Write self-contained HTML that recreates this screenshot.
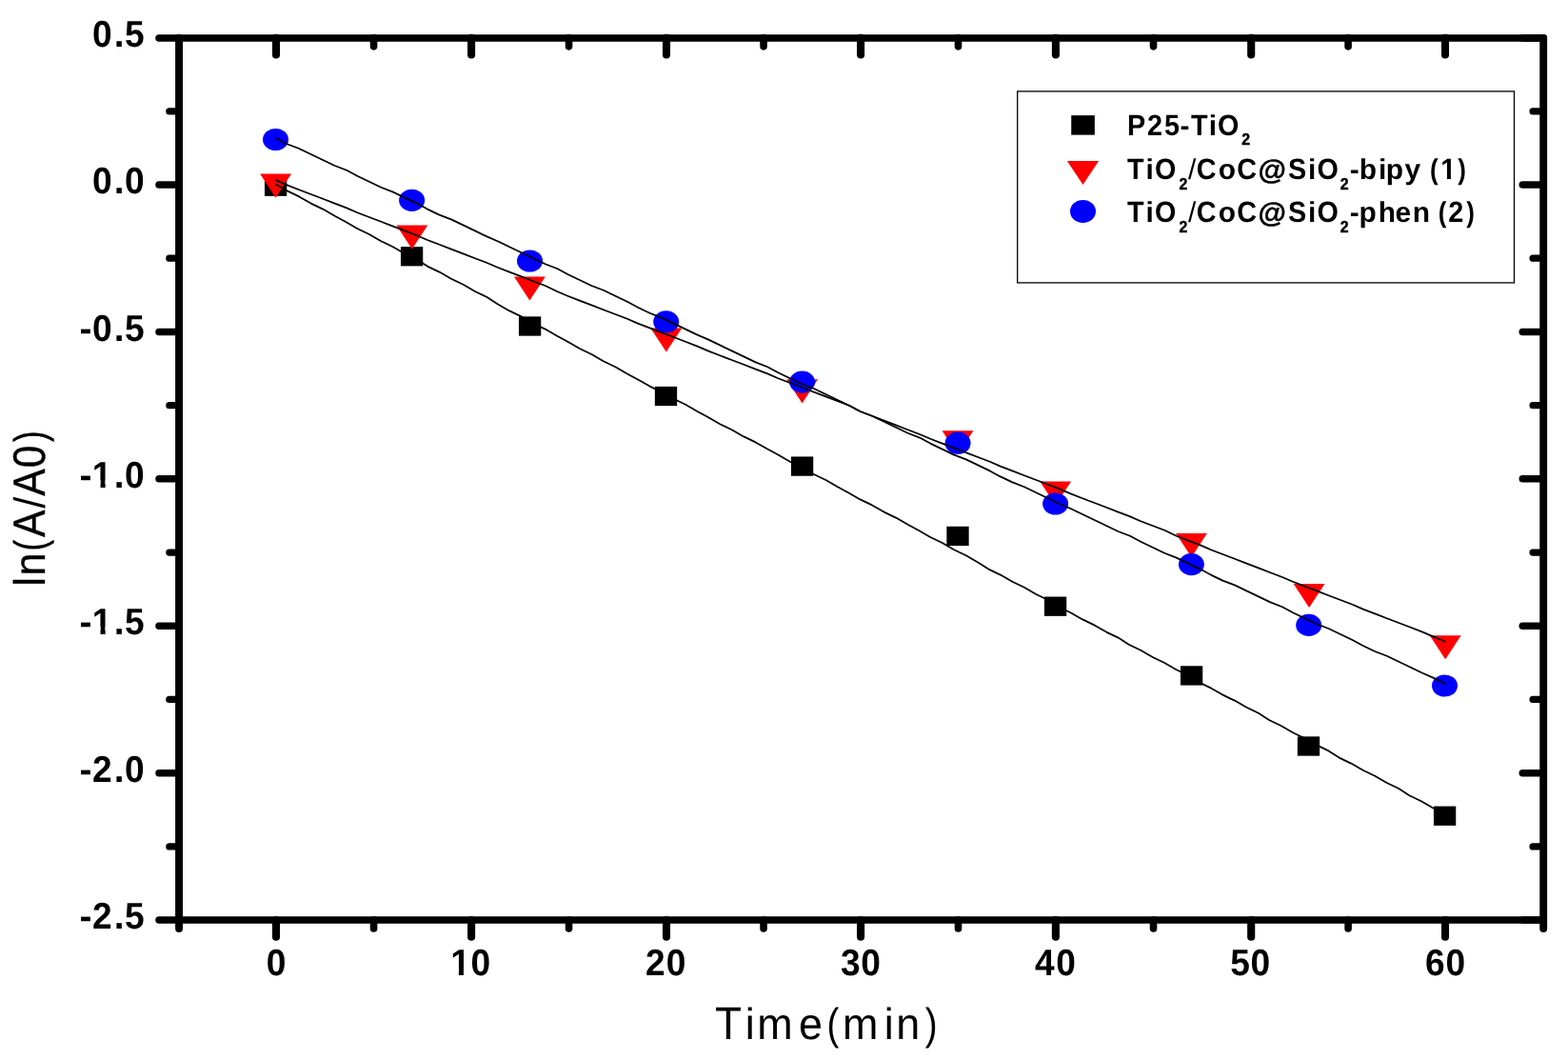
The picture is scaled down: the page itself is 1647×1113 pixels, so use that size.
<!DOCTYPE html>
<html lang="en">
<head>
<meta charset="utf-8">
<title>ln(A/A0) vs Time(min)</title>
<style>
html,body{margin:0;padding:0;background:#fff;}
body{width:1647px;height:1113px;overflow:hidden;}
svg{display:block;}
text{font-family:"Liberation Sans",sans-serif;white-space:pre;text-rendering:geometricPrecision;}
text.b{font-weight:bold;}
text.r{font-weight:normal;}
</style>
</head>
<body>
<svg width="1647" height="1113" viewBox="0 0 1647 1113" role="img" aria-label="ln(A/A0) versus Time(min)">
<rect x="0" y="0" width="1647" height="1113" fill="#fff"/>
<g stroke="#000" stroke-linecap="round" fill="none">
<line x1="188.05" y1="39.9" x2="1621.2" y2="39.9" stroke-width="7.5"/>
<line x1="188.05" y1="966.1" x2="1621.2" y2="966.1" stroke-width="7.5"/>
<line x1="188.05" y1="39.9" x2="188.05" y2="966.1" stroke-width="7.9"/>
<line x1="1621.2" y1="39.9" x2="1621.2" y2="966.1" stroke-width="7.9"/>
<line x1="188.05" y1="966.1" x2="188.05" y2="975.05" stroke-width="7.9"/>
<line x1="290" y1="966.1" x2="290" y2="983.65" stroke-width="8.1"/>
<line x1="290" y1="39.9" x2="290" y2="57.45" stroke-width="8.1"/>
<line x1="392.55" y1="966.1" x2="392.55" y2="975.05" stroke-width="7.6"/>
<line x1="392.55" y1="39.9" x2="392.55" y2="48.85" stroke-width="7.6"/>
<line x1="495.1" y1="966.1" x2="495.1" y2="983.65" stroke-width="8.1"/>
<line x1="495.1" y1="39.9" x2="495.1" y2="57.45" stroke-width="8.1"/>
<line x1="597.55" y1="966.1" x2="597.55" y2="975.05" stroke-width="7.6"/>
<line x1="597.55" y1="39.9" x2="597.55" y2="48.85" stroke-width="7.6"/>
<line x1="700" y1="966.1" x2="700" y2="983.65" stroke-width="8.1"/>
<line x1="700" y1="39.9" x2="700" y2="57.45" stroke-width="8.1"/>
<line x1="802.05" y1="966.1" x2="802.05" y2="975.05" stroke-width="7.6"/>
<line x1="802.05" y1="39.9" x2="802.05" y2="48.85" stroke-width="7.6"/>
<line x1="904.1" y1="966.1" x2="904.1" y2="983.65" stroke-width="8.1"/>
<line x1="904.1" y1="39.9" x2="904.1" y2="57.45" stroke-width="8.1"/>
<line x1="1006.5" y1="966.1" x2="1006.5" y2="975.05" stroke-width="7.6"/>
<line x1="1006.5" y1="39.9" x2="1006.5" y2="48.85" stroke-width="7.6"/>
<line x1="1108.9" y1="966.1" x2="1108.9" y2="983.65" stroke-width="8.1"/>
<line x1="1108.9" y1="39.9" x2="1108.9" y2="57.45" stroke-width="8.1"/>
<line x1="1211.55" y1="966.1" x2="1211.55" y2="975.05" stroke-width="7.6"/>
<line x1="1211.55" y1="39.9" x2="1211.55" y2="48.85" stroke-width="7.6"/>
<line x1="1314.2" y1="966.1" x2="1314.2" y2="983.65" stroke-width="8.1"/>
<line x1="1314.2" y1="39.9" x2="1314.2" y2="57.45" stroke-width="8.1"/>
<line x1="1416.1" y1="966.1" x2="1416.1" y2="975.05" stroke-width="7.6"/>
<line x1="1416.1" y1="39.9" x2="1416.1" y2="48.85" stroke-width="7.6"/>
<line x1="1518" y1="966.1" x2="1518" y2="983.65" stroke-width="8.1"/>
<line x1="1518" y1="39.9" x2="1518" y2="57.45" stroke-width="8.1"/>
<line x1="1621.2" y1="966.1" x2="1621.2" y2="975.05" stroke-width="7.9"/>
<line x1="167" y1="39.9" x2="188.05" y2="39.9" stroke-width="7.5"/>
<line x1="1599.25" y1="39.9" x2="1621.2" y2="39.9" stroke-width="7.5"/>
<line x1="177.8" y1="116.95" x2="188.05" y2="116.95" stroke-width="7.2"/>
<line x1="1610.05" y1="116.95" x2="1621.2" y2="116.95" stroke-width="7.2"/>
<line x1="167" y1="194" x2="188.05" y2="194" stroke-width="7.5"/>
<line x1="1599.25" y1="194" x2="1621.2" y2="194" stroke-width="7.5"/>
<line x1="177.8" y1="271.21" x2="188.05" y2="271.21" stroke-width="7.2"/>
<line x1="1610.05" y1="271.21" x2="1621.2" y2="271.21" stroke-width="7.2"/>
<line x1="167" y1="348.42" x2="188.05" y2="348.42" stroke-width="7.5"/>
<line x1="1599.25" y1="348.42" x2="1621.2" y2="348.42" stroke-width="7.5"/>
<line x1="177.8" y1="425.63" x2="188.05" y2="425.63" stroke-width="7.2"/>
<line x1="1610.05" y1="425.63" x2="1621.2" y2="425.63" stroke-width="7.2"/>
<line x1="167" y1="502.84" x2="188.05" y2="502.84" stroke-width="7.5"/>
<line x1="1599.25" y1="502.84" x2="1621.2" y2="502.84" stroke-width="7.5"/>
<line x1="177.8" y1="580.05" x2="188.05" y2="580.05" stroke-width="7.2"/>
<line x1="1610.05" y1="580.05" x2="1621.2" y2="580.05" stroke-width="7.2"/>
<line x1="167" y1="657.26" x2="188.05" y2="657.26" stroke-width="7.5"/>
<line x1="1599.25" y1="657.26" x2="1621.2" y2="657.26" stroke-width="7.5"/>
<line x1="177.8" y1="734.47" x2="188.05" y2="734.47" stroke-width="7.2"/>
<line x1="1610.05" y1="734.47" x2="1621.2" y2="734.47" stroke-width="7.2"/>
<line x1="167" y1="811.68" x2="188.05" y2="811.68" stroke-width="7.5"/>
<line x1="1599.25" y1="811.68" x2="1621.2" y2="811.68" stroke-width="7.5"/>
<line x1="177.8" y1="888.89" x2="188.05" y2="888.89" stroke-width="7.2"/>
<line x1="1610.05" y1="888.89" x2="1621.2" y2="888.89" stroke-width="7.2"/>
<line x1="167" y1="966.1" x2="188.05" y2="966.1" stroke-width="7.5"/>
<line x1="1599.25" y1="966.1" x2="1621.2" y2="966.1" stroke-width="7.5"/>
</g>
<g fill="#000">
<text class="b" y="48.75"><tspan x="96.95" font-size="38.9" textLength="20.661" lengthAdjust="spacingAndGlyphs">0</tspan><tspan x="119.67" font-size="38.9">.</tspan><tspan x="130.92" font-size="38.9" textLength="20.661" lengthAdjust="spacingAndGlyphs">5</tspan></text>
<text class="b" y="202.75"><tspan x="96.95" font-size="38.9" textLength="20.661" lengthAdjust="spacingAndGlyphs">0</tspan><tspan x="119.67" font-size="38.9">.</tspan><tspan x="131" font-size="38.9" textLength="20.661" lengthAdjust="spacingAndGlyphs">0</tspan></text>
<text class="b" y="357.8"><tspan x="83.59" font-size="38.9">-</tspan><tspan x="96.95" font-size="38.9" textLength="20.661" lengthAdjust="spacingAndGlyphs">0</tspan><tspan x="119.67" font-size="38.9">.</tspan><tspan x="130.92" font-size="38.9" textLength="20.661" lengthAdjust="spacingAndGlyphs">5</tspan></text>
<text class="b" y="512"><tspan x="83.59" font-size="38.9">-</tspan><tspan x="96.85" font-size="38.9" textLength="20.661" lengthAdjust="spacingAndGlyphs">1</tspan><tspan x="119.67" font-size="38.9">.</tspan><tspan x="131" font-size="38.9" textLength="20.661" lengthAdjust="spacingAndGlyphs">0</tspan></text>
<rect x="97.57" y="504.22" width="7.95" height="9.28" fill="#fff"/>
<rect x="110.61" y="504.22" width="7.64" height="9.28" fill="#fff"/>
<text class="b" y="665.75"><tspan x="83.59" font-size="38.9">-</tspan><tspan x="96.85" font-size="38.9" textLength="20.661" lengthAdjust="spacingAndGlyphs">1</tspan><tspan x="119.67" font-size="38.9">.</tspan><tspan x="130.92" font-size="38.9" textLength="20.661" lengthAdjust="spacingAndGlyphs">5</tspan></text>
<rect x="97.57" y="657.97" width="7.95" height="9.28" fill="#fff"/>
<rect x="110.61" y="657.97" width="7.64" height="9.28" fill="#fff"/>
<text class="b" y="820.75"><tspan x="83.59" font-size="38.9">-</tspan><tspan x="97.02" font-size="38.9" textLength="20.661" lengthAdjust="spacingAndGlyphs">2</tspan><tspan x="119.67" font-size="38.9">.</tspan><tspan x="131" font-size="38.9" textLength="20.661" lengthAdjust="spacingAndGlyphs">0</tspan></text>
<text class="b" y="974.75"><tspan x="83.59" font-size="38.9">-</tspan><tspan x="97.02" font-size="38.9" textLength="20.661" lengthAdjust="spacingAndGlyphs">2</tspan><tspan x="119.67" font-size="38.9">.</tspan><tspan x="130.92" font-size="38.9" textLength="20.661" lengthAdjust="spacingAndGlyphs">5</tspan></text>
<text class="b" y="1024"><tspan x="279.75" font-size="38.9" textLength="20.661" lengthAdjust="spacingAndGlyphs">0</tspan></text>
<text class="b" y="1024"><tspan x="473.2" font-size="38.9" textLength="20.661" lengthAdjust="spacingAndGlyphs">1</tspan><tspan x="494.55" font-size="38.9" textLength="20.661" lengthAdjust="spacingAndGlyphs">0</tspan></text>
<rect x="473.92" y="1016.22" width="7.95" height="9.28" fill="#fff"/>
<rect x="486.96" y="1016.22" width="7.64" height="9.28" fill="#fff"/>
<text class="b" y="1024"><tspan x="678.12" font-size="38.9" textLength="20.661" lengthAdjust="spacingAndGlyphs">2</tspan><tspan x="699.65" font-size="38.9" textLength="20.661" lengthAdjust="spacingAndGlyphs">0</tspan></text>
<text class="b" y="1024"><tspan x="883.11" font-size="38.9" textLength="20.661" lengthAdjust="spacingAndGlyphs">3</tspan><tspan x="904.3" font-size="38.9" textLength="20.661" lengthAdjust="spacingAndGlyphs">0</tspan></text>
<text class="b" y="1024"><tspan x="1087.04" font-size="38.9" textLength="20.661" lengthAdjust="spacingAndGlyphs">4</tspan><tspan x="1109.15" font-size="38.9" textLength="20.661" lengthAdjust="spacingAndGlyphs">0</tspan></text>
<text class="b" y="1024"><tspan x="1292.17" font-size="38.9" textLength="20.661" lengthAdjust="spacingAndGlyphs">5</tspan><tspan x="1313.55" font-size="38.9" textLength="20.661" lengthAdjust="spacingAndGlyphs">0</tspan></text>
<text class="b" y="1024"><tspan x="1496.96" font-size="38.9" textLength="20.661" lengthAdjust="spacingAndGlyphs">6</tspan><tspan x="1518.5" font-size="38.9" textLength="20.661" lengthAdjust="spacingAndGlyphs">0</tspan></text>
</g>
<g fill="#000">
<text class="r" y="1091"><tspan x="751.05" font-size="48.3" textLength="28.028" lengthAdjust="spacingAndGlyphs">T</tspan><tspan x="782.87" font-size="46.3" textLength="9.978" lengthAdjust="spacingAndGlyphs">i</tspan><tspan x="795.18" font-size="46.3" textLength="37.411" lengthAdjust="spacingAndGlyphs">m</tspan><tspan x="839.06" font-size="46.3" textLength="24.977" lengthAdjust="spacingAndGlyphs">e</tspan><tspan x="868.48" font-size="46.3" textLength="12.862" lengthAdjust="spacingAndGlyphs">(</tspan><tspan x="884.98" font-size="46.3" textLength="37.411" lengthAdjust="spacingAndGlyphs">m</tspan><tspan x="928.82" font-size="46.3" textLength="9.978" lengthAdjust="spacingAndGlyphs">i</tspan><tspan x="941.28" font-size="46.3" textLength="24.977" lengthAdjust="spacingAndGlyphs">n</tspan><tspan x="971.75" font-size="46.3" textLength="12.862" lengthAdjust="spacingAndGlyphs">)</tspan></text>
<g stroke="#000" stroke-width="0.4" stroke-linejoin="round">
<text class="r" y="0" transform="translate(47.2 0) rotate(-90)"><tspan x="-615.74" font-size="45.8" textLength="9.667" lengthAdjust="spacingAndGlyphs">l</tspan><tspan x="-604.48" font-size="45.8" textLength="24.198" lengthAdjust="spacingAndGlyphs">n</tspan><tspan x="-578.57" font-size="45.8" textLength="11.591" lengthAdjust="spacingAndGlyphs">(</tspan><tspan x="-563.88" font-size="47.4" textLength="28.454" lengthAdjust="spacingAndGlyphs">A</tspan><tspan x="-533.64" font-size="45.8" stroke="none" textLength="12.088" lengthAdjust="spacingAndGlyphs">/</tspan><tspan x="-520.78" font-size="47.4" textLength="28.454" lengthAdjust="spacingAndGlyphs">A</tspan><tspan x="-491.24" font-size="47.4" textLength="23.725" lengthAdjust="spacingAndGlyphs">0</tspan><tspan x="-463.92" font-size="45.8" textLength="11.591" lengthAdjust="spacingAndGlyphs">)</tspan></text>
</g>
</g>
<g>
<rect x="277.95" y="185.55" width="23.3" height="20.3" fill="#000"/>
<rect x="420.95" y="259.05" width="23.3" height="20.3" fill="#000"/>
<rect x="544.95" y="332.35" width="23.3" height="20.3" fill="#000"/>
<rect x="687.85" y="405.85" width="23.3" height="20.3" fill="#000"/>
<rect x="830.95" y="479.45" width="23.3" height="20.3" fill="#000"/>
<rect x="994.35" y="552.75" width="23.3" height="20.3" fill="#000"/>
<rect x="1096.95" y="626.55" width="23.3" height="20.3" fill="#000"/>
<rect x="1239.95" y="699.25" width="23.3" height="20.3" fill="#000"/>
<rect x="1362.85" y="773.35" width="23.3" height="20.3" fill="#000"/>
<rect x="1505.95" y="846.55" width="23.3" height="20.3" fill="#000"/>
<polygon points="273.15,182.6 306.05,182.6 289.6,207.7" fill="#f00"/>
<polygon points="416.35,236.5 449.25,236.5 432.8,261.6" fill="#f00"/>
<polygon points="539.95,290.4 572.85,290.4 556.4,315.5" fill="#f00"/>
<polygon points="683.35,344.4 716.25,344.4 699.8,369.5" fill="#f00"/>
<polygon points="826.15,398.3 859.05,398.3 842.6,423.4" fill="#f00"/>
<polygon points="989.55,452.2 1022.45,452.2 1006,477.3" fill="#f00"/>
<polygon points="1092.25,505.4 1125.15,505.4 1108.7,530.5" fill="#f00"/>
<polygon points="1235.05,560 1267.95,560 1251.5,585.1" fill="#f00"/>
<polygon points="1358.65,613 1391.55,613 1375.1,638.1" fill="#f00"/>
<polygon points="1501.75,667.2 1534.65,667.2 1518.2,692.3" fill="#f00"/>
<ellipse cx="289.5" cy="146.5" rx="13.5" ry="11.6" fill="#00f"/>
<ellipse cx="432.6" cy="210.3" rx="13.5" ry="11.6" fill="#00f"/>
<ellipse cx="556.5" cy="274" rx="13.5" ry="11.6" fill="#00f"/>
<ellipse cx="699.7" cy="337.9" rx="13.5" ry="11.6" fill="#00f"/>
<ellipse cx="842.6" cy="401.1" rx="13.5" ry="11.6" fill="#00f"/>
<ellipse cx="1006.1" cy="465.2" rx="13.5" ry="11.6" fill="#00f"/>
<ellipse cx="1108.6" cy="529" rx="13.5" ry="11.6" fill="#00f"/>
<ellipse cx="1251.4" cy="592.6" rx="13.5" ry="11.6" fill="#00f"/>
<ellipse cx="1374.7" cy="656.4" rx="13.5" ry="11.6" fill="#00f"/>
<ellipse cx="1517.5" cy="720" rx="13.5" ry="11.6" fill="#00f"/>
</g>
<g stroke="#000" stroke-width="1.75" fill="none" stroke-linecap="butt" stroke-linejoin="round">
<polyline points="289.8,193.5 301.63,200.4 314.14,206.4 326.65,213.6 339.16,219.6 351.67,226.8 362.79,232.8 375.3,240 387.81,246 400.32,253.2 412.83,259.2 425.34,266.4 437.85,272.4 448.97,279.6 461.48,285.6 473.99,292.8 486.5,298.8 499.01,306 511.52,312 522.64,319.2 535.15,326.4 547.66,332.4 560.17,339.6 572.68,345.6 585.19,352.8 596.31,358.8 608.82,366 621.33,372 633.84,379.2 646.35,385.2 658.86,392.4 669.98,398.4 682.49,405.6 695,411.6 707.51,418.8 720.02,424.8 732.53,432 743.65,438 756.16,445.2 768.67,451.2 781.18,458.4 793.69,464.4 806.2,471.6 817.32,477.6 829.83,484.8 842.34,490.8 854.85,498 867.36,504 879.87,511.2 890.99,517.2 903.5,524.4 916.01,530.4 928.52,537.6 941.03,543.6 953.54,550.8 964.66,556.8 977.17,564 989.68,570 1002.19,577.2 1014.7,583.2 1027.21,590.4 1038.33,597.6 1050.84,603.6 1063.35,610.8 1075.86,616.8 1088.37,624 1100.88,630 1112,637.2 1124.51,643.2 1137.02,650.4 1149.53,656.4 1162.04,663.6 1174.55,669.6 1185.67,676.8 1198.18,682.8 1210.69,690 1223.2,696 1235.71,703.2 1248.22,709.2 1259.34,716.4 1271.85,722.4 1284.36,729.6 1296.87,735.6 1309.38,742.8 1321.89,748.8 1333.01,756 1345.52,762 1358.03,769.2 1370.54,775.2 1383.05,782.4 1395.56,788.4 1406.68,795.6 1419.19,801.6 1431.7,808.8 1444.21,814.8 1456.72,822 1469.23,828 1480.35,835.2 1492.86,841.2 1505.37,848.4 1517.8,855"/>
<polyline points="289.8,189.1 301.63,194.4 314.14,199.2 326.65,204 339.16,208.8 351.67,213.6 364.18,218.4 375.3,223.2 387.81,228 400.32,232.8 412.83,237.6 425.34,242.4 437.85,247.2 448.97,252 461.48,256.8 473.99,261.6 486.5,266.4 499.01,271.2 511.52,276 522.64,280.8 535.15,285.6 547.66,290.4 560.17,295.2 572.68,300 585.19,306 596.31,310.8 608.82,315.6 621.33,320.4 633.84,325.2 646.35,330 658.86,334.8 669.98,339.6 682.49,344.4 695,349.2 707.51,354 720.02,358.8 732.53,363.6 743.65,368.4 756.16,373.2 768.67,378 781.18,382.8 793.69,387.6 806.2,392.4 817.32,397.2 829.83,402 842.34,406.8 854.85,411.6 867.36,416.4 879.87,421.2 892.38,426 903.5,432 916.01,436.8 928.52,441.6 941.03,446.4 953.54,451.2 966.05,456 977.17,460.8 989.68,465.6 1002.19,470.4 1014.7,475.2 1027.21,480 1039.72,484.8 1050.84,489.6 1063.35,494.4 1075.86,499.2 1088.37,504 1100.88,508.8 1113.39,513.6 1124.51,518.4 1137.02,523.2 1149.53,528 1162.04,532.8 1174.55,537.6 1187.06,542.4 1198.18,547.2 1210.69,552 1223.2,556.8 1235.71,562.8 1248.22,567.6 1260.73,572.4 1271.85,577.2 1284.36,582 1296.87,586.8 1309.38,591.6 1321.89,596.4 1334.4,601.2 1346.91,606 1358.03,610.8 1370.54,615.6 1383.05,620.4 1395.56,625.2 1408.07,630 1420.58,634.8 1431.7,639.6 1444.21,644.4 1456.72,649.2 1469.23,654 1481.74,658.8 1494.25,663.6 1505.37,668.4 1518.2,673.7"/>
<polyline points="289.8,144.9 301.63,151.2 314.14,156 326.65,162 339.16,168 351.67,174 364.18,178.8 375.3,184.8 387.81,190.8 400.32,196.8 412.83,201.6 425.34,207.6 437.85,213.6 448.97,219.6 461.48,225.6 473.99,230.4 486.5,236.4 499.01,242.4 511.52,248.4 522.64,253.2 535.15,259.2 547.66,265.2 560.17,271.2 572.68,277.2 585.19,282 596.31,288 608.82,294 621.33,300 633.84,304.8 646.35,310.8 658.86,316.8 669.98,322.8 682.49,328.8 695,333.6 707.51,339.6 720.02,345.6 732.53,351.6 743.65,356.4 756.16,362.4 768.67,368.4 781.18,374.4 793.69,380.4 806.2,385.2 817.32,391.2 829.83,397.2 842.34,403.2 854.85,408 867.36,414 879.87,420 892.38,426 903.5,432 916.01,436.8 928.52,442.8 941.03,448.8 953.54,454.8 966.05,459.6 977.17,465.6 989.68,471.6 1002.19,477.6 1014.7,482.4 1027.21,488.4 1039.72,494.4 1050.84,500.4 1063.35,506.4 1075.86,511.2 1088.37,517.2 1100.88,523.2 1113.39,529.2 1124.51,534 1137.02,540 1149.53,546 1162.04,552 1174.55,558 1187.06,562.8 1198.18,568.8 1210.69,574.8 1223.2,580.8 1235.71,585.6 1248.22,591.6 1260.73,597.6 1271.85,603.6 1284.36,609.6 1296.87,614.4 1309.38,620.4 1321.89,626.4 1334.4,632.4 1346.91,637.2 1358.03,643.2 1370.54,649.2 1383.05,655.2 1395.56,660 1408.07,666 1420.58,672 1431.7,678 1444.21,684 1456.72,688.8 1469.23,694.8 1481.74,700.8 1494.25,706.8 1505.37,711.6 1518.2,717.9"/>
</g>
<rect x="1068.7" y="95.9" width="521.8" height="201" fill="none" stroke="#000" stroke-width="1.3"/>
<rect x="1125.25" y="121.15" width="24.6" height="20.5" fill="#000"/>
<polygon points="1120.9,168.9 1154.1,168.9 1137.5,193.9" fill="#f00"/>
<ellipse cx="1137.5" cy="222" rx="13.5" ry="11.9" fill="#00f"/>
<g fill="#000">
<text class="b" y="141.95"><tspan x="1184.12" font-size="30.8" textLength="19.208" lengthAdjust="spacingAndGlyphs">P</tspan><tspan x="1204.92" font-size="30.8" textLength="16.016" lengthAdjust="spacingAndGlyphs">2</tspan><tspan x="1222.95" font-size="30.8" textLength="16.016" lengthAdjust="spacingAndGlyphs">5</tspan><tspan x="1239.59" font-size="29.9">-</tspan><tspan x="1251" font-size="30.8" textLength="17.591" lengthAdjust="spacingAndGlyphs">T</tspan><tspan x="1269.81" font-size="29.9">i</tspan><tspan x="1279.11" font-size="30.8" textLength="22.4" lengthAdjust="spacingAndGlyphs">O</tspan><tspan x="1304.22" dy="10.45" font-size="17.3" stroke="#000" stroke-width="0.45" textLength="8.852" lengthAdjust="spacingAndGlyphs">2</tspan></text>
<text class="b" y="188.1"><tspan x="1184.1" font-size="30.8" textLength="17.591" lengthAdjust="spacingAndGlyphs">T</tspan><tspan x="1203.51" font-size="29.9">i</tspan><tspan x="1212.91" font-size="30.8" textLength="22.4" lengthAdjust="spacingAndGlyphs">O</tspan><tspan x="1238.42" dy="10.45" font-size="17.3" stroke="#000" stroke-width="0.45" textLength="8.852" lengthAdjust="spacingAndGlyphs">2</tspan><tspan x="1248.1" dy="-10.45" font-size="29.9" font-weight="normal">/</tspan><tspan x="1256.8" font-size="30.8" textLength="20.797" lengthAdjust="spacingAndGlyphs">C</tspan><tspan x="1279.72" font-size="29.9">o</tspan><tspan x="1299.3" font-size="30.8" textLength="20.797" lengthAdjust="spacingAndGlyphs">C</tspan><tspan x="1321.61" font-size="29" stroke="#000" stroke-width="0.5" textLength="29.412" lengthAdjust="spacingAndGlyphs">@</tspan><tspan x="1353.07" font-size="30.8" textLength="19.208" lengthAdjust="spacingAndGlyphs">S</tspan><tspan x="1373.91" font-size="29.9">i</tspan><tspan x="1383.51" font-size="30.8" textLength="22.4" lengthAdjust="spacingAndGlyphs">O</tspan><tspan x="1407.77" dy="10.45" font-size="17.3" stroke="#000" stroke-width="0.45" textLength="8.852" lengthAdjust="spacingAndGlyphs">2</tspan><tspan x="1417.79" dy="-10.45" font-size="29.9">-</tspan><tspan x="1427.72" font-size="29.9">b</tspan><tspan x="1447.9" font-size="29.9">i</tspan><tspan x="1455.64" font-size="29.9">p</tspan><tspan x="1475.62" font-size="29.9">y</tspan><tspan x="1492.25" font-size="29.9"> </tspan><tspan x="1501.88" font-size="29.9" textLength="8.663" lengthAdjust="spacingAndGlyphs">(</tspan><tspan x="1513.28" font-size="30.8" textLength="16.016" lengthAdjust="spacingAndGlyphs">1</tspan><tspan x="1531.2" font-size="29.9" textLength="8.663" lengthAdjust="spacingAndGlyphs">)</tspan></text>
<rect x="1513.84" y="181.94" width="6.16" height="7.66" fill="#fff"/>
<rect x="1523.95" y="181.94" width="5.92" height="7.66" fill="#fff"/>
<text class="b" y="233.2"><tspan x="1184.1" font-size="30.8" textLength="17.591" lengthAdjust="spacingAndGlyphs">T</tspan><tspan x="1203.51" font-size="29.9">i</tspan><tspan x="1212.91" font-size="30.8" textLength="22.4" lengthAdjust="spacingAndGlyphs">O</tspan><tspan x="1238.42" dy="10.45" font-size="17.3" stroke="#000" stroke-width="0.45" textLength="8.852" lengthAdjust="spacingAndGlyphs">2</tspan><tspan x="1248.1" dy="-10.45" font-size="29.9" font-weight="normal">/</tspan><tspan x="1256.8" font-size="30.8" textLength="20.797" lengthAdjust="spacingAndGlyphs">C</tspan><tspan x="1279.72" font-size="29.9">o</tspan><tspan x="1299.3" font-size="30.8" textLength="20.797" lengthAdjust="spacingAndGlyphs">C</tspan><tspan x="1321.61" font-size="29" stroke="#000" stroke-width="0.5" textLength="29.412" lengthAdjust="spacingAndGlyphs">@</tspan><tspan x="1353.07" font-size="30.8" textLength="19.208" lengthAdjust="spacingAndGlyphs">S</tspan><tspan x="1373.91" font-size="29.9">i</tspan><tspan x="1383.51" font-size="30.8" textLength="22.4" lengthAdjust="spacingAndGlyphs">O</tspan><tspan x="1407.77" dy="10.45" font-size="17.3" stroke="#000" stroke-width="0.45" textLength="8.852" lengthAdjust="spacingAndGlyphs">2</tspan><tspan x="1417.69" dy="-10.45" font-size="29.9">-</tspan><tspan x="1427.61" font-size="29.9">p</tspan><tspan x="1447.63" font-size="29.9">h</tspan><tspan x="1465.49" font-size="29.9">e</tspan><tspan x="1483.81" font-size="29.9">n</tspan><tspan x="1502.07" font-size="29.9"> </tspan><tspan x="1510.78" font-size="29.9" textLength="8.663" lengthAdjust="spacingAndGlyphs">(</tspan><tspan x="1521.22" font-size="30.8" textLength="16.016" lengthAdjust="spacingAndGlyphs">2</tspan><tspan x="1540.13" font-size="29.9" textLength="8.663" lengthAdjust="spacingAndGlyphs">)</tspan></text>
</g>
</svg>
</body>
</html>
